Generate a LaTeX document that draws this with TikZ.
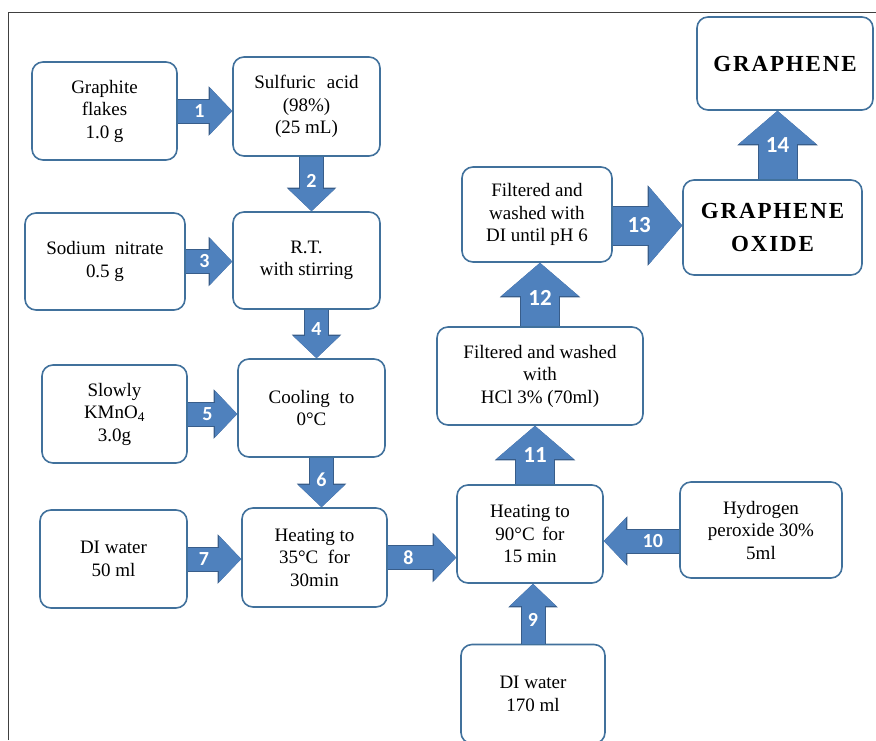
\documentclass[tikz,border=0pt]{standalone}
\usepackage{fontspec}
\setmainfont{Liberation Serif}
\newfontfamily\numfont{Carlito}
\newfontfamily\gofont[LetterSpace = 8]{Liberation Serif}
\usetikzlibrary{arrows.meta}

\definecolor{boxedge}{RGB}{65,113,156}
\definecolor{arrowfill}{RGB}{79,129,189}
\definecolor{arrowedge}{RGB}{56,93,138}

\tikzset{
  procbox/.style = {draw = boxedge, line width = 1.6pt, rounded corners = 11pt, align = center,
    inner sep = 2pt, font = \fontsize{19}{22.5}\selectfont},
  smallarrow/.style = {draw = arrowfill, line width = 23pt,
    -{Triangle[width = 46pt, length = 22pt, line width = 0pt]},
    preaction = {draw = arrowedge, line width = 25pt,
    -{Triangle[width = 49.5pt, length = 23.5pt, line width = 0pt]}}},
  bigarrow/.style = {draw = arrowfill, line width = 38pt,
    -{Triangle[width = 77pt, length = 33pt, line width = 0pt]},
    preaction = {draw = arrowedge, line width = 40pt,
    -{Triangle[width = 80.5pt, length = 34.5pt, line width = 0pt]}}},
  num/.style = {text = white, inner sep = 0pt, font = \numfont\bfseries\fontsize{20}{20}\selectfont},
  bignum/.style = {num, font = \numfont\bfseries\fontsize{23}{23}\selectfont},
}

\begin{document}
\begin{tikzpicture}[x = 1pt, y = -1pt]
\useasboundingbox (0, 0) rectangle (876, 740);
%\draw[very thin, color = gray, step = 50](0, 0) grid (876, 740);
\draw [line width = 0.8pt, color = black!75] (8, 740) -- (8, 12) -- (876, 12);

\node (graph) at (104.5, 111) [procbox, minimum width = 145pt, minimum height = 98pt] {Graphite\\flakes\\1.0 g};
\node (sulf) at (306.5, 106.5) [procbox, minimum width = 147pt, minimum height = 99pt] {Sulfuric\hspace{0.6em}acid\\(98\%)\\(25 mL)};
\node (sodium) at (105, 261.5) [procbox, minimum width = 160pt, minimum height = 97pt] {Sodium\hspace{0.5em}nitrate\\0.5 g};
\node (rt) at (306.5, 260.5) [procbox, minimum width = 147pt, minimum height = 97pt] {R.T.\\with stirring};
\node (slowly) at (114.5, 414) [procbox, minimum width = 145pt, minimum height = 98pt] {Slowly\\KMnO\textsubscript{4}\\3.0g};
\node (cool) at (311.5, 408) [procbox, minimum width = 147pt, minimum height = 98pt] {Cooling\hspace{0.5em}to\\0°C};
\node (diw) at (113.5, 559) [procbox, minimum width = 147pt, minimum height = 98pt] {DI water\\50 ml};
\node (heat35) at (314.5, 557.5) [procbox, minimum width = 145pt, minimum height = 99pt] {Heating to\\35°C\hspace{0.5em}for\\30min};
\node (heat90) at (530, 534) [procbox, minimum width = 146pt, minimum height = 98pt] {Heating to\\90°C\hspace{0.4em}for\\15 min};
\node (hydro) at (761, 530) [procbox, minimum width = 162pt, minimum height = 96pt] {Hydrogen\\peroxide 30\%\\5ml};
\node (di170) at (533, 694) [procbox, minimum width = 144pt, minimum height = 99pt] {DI water\\170 ml};
\node (hcl) at (540, 376) [procbox, minimum width = 206pt, minimum height = 98pt] {Filtered and washed\\with\\HCl 3\% (70ml)};
\node (fdi) at (537, 214.5) [procbox, minimum width = 150pt, minimum height = 95pt] {Filtered and\\washed with\\DI until pH 6};
\node (go) at (772.5, 227.5) [procbox, minimum width = 179pt, minimum height = 95pt,
  font = \gofont\bfseries\fontsize{23}{33}\selectfont] {GRAPHENE\\OXIDE};
\node (gr) at (785, 63.5) [procbox, minimum width = 176pt, minimum height = 93pt,
  font = \gofont\bfseries\fontsize{23}{33}\selectfont] {GRAPHENE};

\draw [smallarrow] (graph.east) -- node [num, pos = 0.4] {1} (graph.east -| sulf.west);
\draw [smallarrow] ([xshift = 5pt] sulf.south) -- node [num, pos = 0.45] {2} ([xshift = 5pt] sulf.south |- rt.north);
\draw [smallarrow] (sodium.east) -- node [num, pos = 0.4] {3} (sodium.east -| rt.west);
\draw [smallarrow] ([xshift = 10pt] rt.south) -- node [num, pos = 0.4] {4} ([xshift = 10pt] rt.south |- cool.north);
\draw [smallarrow] (slowly.east) -- node [num, pos = 0.4] {5} (slowly.east -| cool.west);
\draw [smallarrow] ([xshift = 10pt] cool.south) -- node [num, pos = 0.45] {6} ([xshift = 10pt] cool.south |- heat35.north);
\draw [smallarrow] (diw.east) -- node [num, pos = 0.3] {7} (diw.east -| heat35.west);
\draw [smallarrow] (heat35.east) -- node [num, pos = 0.3] {8} (heat35.east -| heat90.west);
\draw [smallarrow] (di170.north) -- node [num, pos = 0.4] {9} (di170.north |- heat90.south);
\draw [smallarrow] ([yshift = -11pt] hydro.west) -- node [num, pos = 0.35] {10} ([yshift = -11pt] hydro.west -| heat90.east);
\draw [bigarrow] ([xshift = 5pt] heat90.north) -- node [bignum, pos = 0.5] {11} ([xshift = 5pt] heat90.north |- hcl.south);
\draw [bigarrow] (hcl.north) -- node [bignum, pos = 0.45] {12} (hcl.north |- fdi.south);
\draw [bigarrow] ([yshift = -11pt] fdi.east) -- node [bignum, pos = 0.38] {13} ([yshift = -11pt] fdi.east -| go.west);
\draw [bigarrow] ([xshift = 5pt] go.north) -- node [bignum, pos = 0.5] {14} ([xshift = 5pt] go.north |- gr.south);
\end{tikzpicture}
\end{document}
